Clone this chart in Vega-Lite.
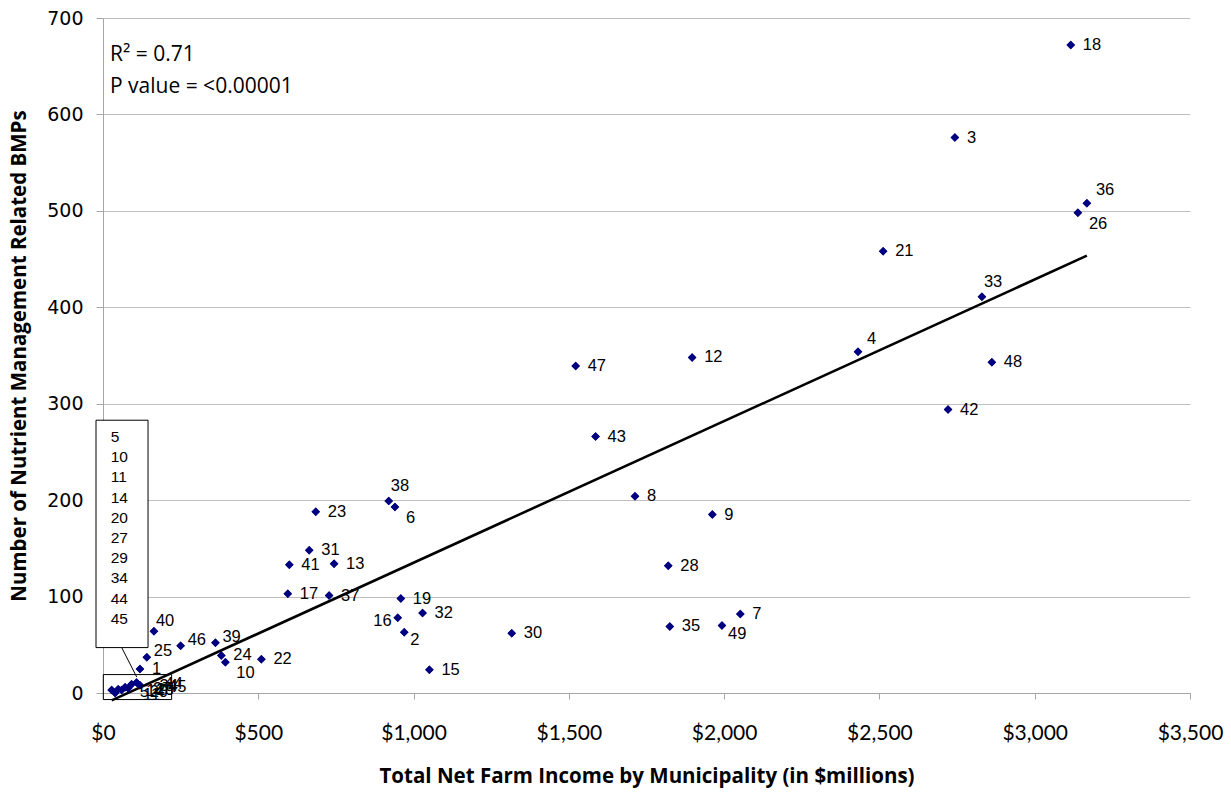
{
  "$schema": "https://vega.github.io/schema/vega-lite/v6.json",
  "width": 1087,
  "height": 675,
  "autosize": {"type": "none"},
  "padding": {"left": 103, "top": 18, "right": 41, "bottom": 101},
  "background": "white",
  "config": {"view": {"stroke": null}, "font": "Liberation Sans"},
  "datasets": {
    "towns": [
      {"id": 1, "income": 119, "bmps": 25},
      {"id": 2, "income": 970, "bmps": 63},
      {"id": 3, "income": 2743, "bmps": 576},
      {"id": 4, "income": 2431, "bmps": 354},
      {"id": 5, "income": 28, "bmps": 3},
      {"id": 6, "income": 940, "bmps": 193},
      {"id": 7, "income": 2052, "bmps": 82},
      {"id": 8, "income": 1713, "bmps": 204},
      {"id": 9, "income": 1962, "bmps": 185},
      {"id": 10, "income": 394, "bmps": 32},
      {"id": 11, "income": 39, "bmps": 0},
      {"id": 12, "income": 1897, "bmps": 348},
      {"id": 13, "income": 744, "bmps": 134},
      {"id": 14, "income": 49, "bmps": 4},
      {"id": 15, "income": 1051, "bmps": 24},
      {"id": 16, "income": 949, "bmps": 78},
      {"id": 17, "income": 595, "bmps": 103},
      {"id": 18, "income": 3116, "bmps": 672},
      {"id": 19, "income": 959, "bmps": 98},
      {"id": 20, "income": 60, "bmps": 3},
      {"id": 21, "income": 2512, "bmps": 458},
      {"id": 22, "income": 510, "bmps": 35},
      {"id": 23, "income": 685, "bmps": 188},
      {"id": 24, "income": 381, "bmps": 39},
      {"id": 25, "income": 141, "bmps": 37},
      {"id": 26, "income": 3139, "bmps": 498},
      {"id": 27, "income": 71, "bmps": 6},
      {"id": 28, "income": 1820, "bmps": 132},
      {"id": 29, "income": 81, "bmps": 5},
      {"id": 30, "income": 1316, "bmps": 62},
      {"id": 31, "income": 664, "bmps": 148},
      {"id": 32, "income": 1029, "bmps": 83},
      {"id": 33, "income": 2830, "bmps": 411},
      {"id": 34, "income": 92, "bmps": 9},
      {"id": 35, "income": 1825, "bmps": 69},
      {"id": 36, "income": 3168, "bmps": 508},
      {"id": 37, "income": 728, "bmps": 101},
      {"id": 38, "income": 920, "bmps": 199},
      {"id": 39, "income": 362, "bmps": 52},
      {"id": 40, "income": 164, "bmps": 64},
      {"id": 41, "income": 600, "bmps": 133},
      {"id": 42, "income": 2721, "bmps": 294},
      {"id": 43, "income": 1586, "bmps": 266},
      {"id": 44, "income": 108, "bmps": 11},
      {"id": 45, "income": 119, "bmps": 8},
      {"id": 46, "income": 250, "bmps": 49},
      {"id": 47, "income": 1522, "bmps": 339},
      {"id": 48, "income": 2862, "bmps": 343},
      {"id": 49, "income": 1993, "bmps": 70}
    ],
    "callout": [{"ids": ["5", "10", "11", "14", "20", "27", "29", "34", "44", "45"], "stats": ["R² = 0.71", "P value = <0.00001"]}]
  },
  "layer": [
    {
      "data": {"name": "towns"},
      "mark": {"type": "point", "shape": "diamond", "filled": true, "size": 72, "color": "#000080", "opacity": 1},
      "encoding": {
        "x": {
          "field": "income",
          "type": "quantitative",
          "scale": {"domain": [0, 3500], "nice": false, "zero": false},
          "axis": {
            "title": "Total Net Farm Income by Municipality (in $millions)",
            "values": [0, 500, 1000, 1500, 2000, 2500, 3000, 3500],
            "labelExpr": "'$' + format(datum.value, ',')",
            "grid": false,
            "domainColor": "#a6a6a6",
            "tickColor": "#a6a6a6",
            "tickSize": 6,
            "labelFont": "Lato",
            "labelFontSize": 21,
            "labelColor": "#000000",
            "labelPadding": 23,
            "labelFlush": false,
            "labelOverlap": false,
            "titleFont": "Open Sans",
            "titleFontSize": 20.5,
            "titleFontWeight": "bold",
            "titleColor": "#000000",
            "titleBaseline": "middle",
            "titleY": 83
          }
        },
        "y": {
          "field": "bmps",
          "type": "quantitative",
          "scale": {"domain": [0, 700], "nice": false, "zero": false},
          "axis": {
            "title": "Number of Nutrient Management Related BMPs",
            "values": [0, 100, 200, 300, 400, 500, 600, 700],
            "grid": true,
            "gridColor": "#bfbfbf",
            "gridWidth": 1,
            "domainColor": "#a6a6a6",
            "tickColor": "#a6a6a6",
            "tickSize": 7,
            "labelFont": "DejaVu Sans",
            "labelFontSize": 19,
            "labelColor": "#000000",
            "labelPadding": 13,
            "labelFlush": false,
            "titleFont": "Open Sans",
            "titleFontSize": 20.5,
            "titleFontWeight": "bold",
            "titleColor": "#000000",
            "titleAngle": 270,
            "titleBaseline": "middle",
            "titleAlign": "center",
            "titleX": -84,
            "titleY": 337.5
          }
        }
      }
    },
    {
      "data": {"name": "callout"},
      "mark": {"type": "rect", "fill": "white", "stroke": "black", "strokeWidth": 1},
      "encoding": {
        "x": {"datum": -22.5, "type": "quantitative"},
        "x2": {"datum": 145},
        "y": {"datum": 282.9, "type": "quantitative"},
        "y2": {"datum": 47.1}
      }
    },
    {
      "data": {"name": "callout"},
      "mark": {"type": "text", "align": "left", "baseline": "middle", "fontSize": 15.5, "lineHeight": 20.2, "color": "black"},
      "encoding": {
        "x": {"datum": 24.8, "type": "quantitative"},
        "y": {"datum": 265.5, "type": "quantitative"},
        "text": {"field": "ids"}
      }
    },
    {
      "data": {"name": "callout"},
      "mark": {"type": "rule", "color": "black", "strokeWidth": 1},
      "encoding": {
        "x": {"datum": 60.2, "type": "quantitative"},
        "x2": {"datum": 108.5},
        "y": {"datum": 47.1, "type": "quantitative"},
        "y2": {"datum": 16.6}
      }
    },
    {
      "data": {"name": "callout"},
      "mark": {"type": "rect", "fill": null, "fillOpacity": 0, "stroke": "black", "strokeWidth": 1},
      "encoding": {
        "x": {"datum": 1, "type": "quantitative"},
        "x2": {"datum": 221},
        "y": {"datum": 19.1, "type": "quantitative"},
        "y2": {"datum": -6.8}
      }
    },
    {
      "data": {"name": "towns"},
      "transform": [{"regression": "bmps", "on": "income", "method": "linear"}],
      "mark": {"type": "line", "color": "black", "strokeWidth": 2.6},
      "encoding": {
        "x": {"field": "income", "type": "quantitative"},
        "y": {"field": "bmps", "type": "quantitative"}
      }
    },
    {
      "data": {"name": "towns"},
      "mark": {"type": "point", "shape": "diamond", "filled": true, "size": 72, "color": "#000080", "opacity": 1},
      "encoding": {
        "x": {"field": "income", "type": "quantitative"},
        "y": {"field": "bmps", "type": "quantitative"}
      }
    },
    {
      "data": {"name": "towns"},
      "transform": [{"filter": "indexof([16,36,4,38,33,40,46,39,25,26,6,10,49,2,5,11,14,20,27,29,34,44,45], datum.id) < 0"}],
      "mark": {"type": "text", "align": "left", "baseline": "middle", "dx": 12, "fontSize": 16.5, "color": "black"},
      "encoding": {"x": {"field": "income", "type": "quantitative"}, "y": {"field": "bmps", "type": "quantitative"}, "text": {"field": "id"}}
    },
    {
      "data": {"name": "towns"},
      "transform": [{"filter": {"field": "id", "oneOf": [36, 4]}}],
      "mark": {"type": "text", "align": "left", "baseline": "middle", "dx": 9, "dy": -13, "fontSize": 16.5, "color": "black"},
      "encoding": {"x": {"field": "income", "type": "quantitative"}, "y": {"field": "bmps", "type": "quantitative"}, "text": {"field": "id"}}
    },
    {
      "data": {"name": "towns"},
      "transform": [{"filter": {"field": "id", "oneOf": [38, 33]}}],
      "mark": {"type": "text", "align": "left", "baseline": "middle", "dx": 2, "dy": -15, "fontSize": 16.5, "color": "black"},
      "encoding": {"x": {"field": "income", "type": "quantitative"}, "y": {"field": "bmps", "type": "quantitative"}, "text": {"field": "id"}}
    },
    {
      "data": {"name": "towns"},
      "transform": [{"filter": {"field": "id", "oneOf": [40]}}],
      "mark": {"type": "text", "align": "left", "baseline": "middle", "dx": 2, "dy": -10, "fontSize": 16.5, "color": "black"},
      "encoding": {"x": {"field": "income", "type": "quantitative"}, "y": {"field": "bmps", "type": "quantitative"}, "text": {"field": "id"}}
    },
    {
      "data": {"name": "towns"},
      "transform": [{"filter": {"field": "id", "oneOf": [46, 39, 25]}}],
      "mark": {"type": "text", "align": "left", "baseline": "middle", "dx": 7, "dy": -6, "fontSize": 16.5, "color": "black"},
      "encoding": {"x": {"field": "income", "type": "quantitative"}, "y": {"field": "bmps", "type": "quantitative"}, "text": {"field": "id"}}
    },
    {
      "data": {"name": "towns"},
      "transform": [{"filter": {"field": "id", "oneOf": [26, 6, 10]}}],
      "mark": {"type": "text", "align": "left", "baseline": "middle", "dx": 11, "dy": 11, "fontSize": 16.5, "color": "black"},
      "encoding": {"x": {"field": "income", "type": "quantitative"}, "y": {"field": "bmps", "type": "quantitative"}, "text": {"field": "id"}}
    },
    {
      "data": {"name": "towns"},
      "transform": [{"filter": {"field": "id", "oneOf": [49, 2]}}],
      "mark": {"type": "text", "align": "left", "baseline": "middle", "dx": 6, "dy": 8, "fontSize": 16.5, "color": "black"},
      "encoding": {"x": {"field": "income", "type": "quantitative"}, "y": {"field": "bmps", "type": "quantitative"}, "text": {"field": "id"}}
    },
    {
      "data": {"name": "towns"},
      "transform": [{"filter": {"field": "id", "oneOf": [16]}}],
      "mark": {"type": "text", "align": "right", "baseline": "middle", "dx": -6, "dy": 3, "fontSize": 16.5, "color": "black"},
      "encoding": {"x": {"field": "income", "type": "quantitative"}, "y": {"field": "bmps", "type": "quantitative"}, "text": {"field": "id"}}
    },
    {
      "data": {"name": "towns"},
      "transform": [{"filter": {"field": "id", "oneOf": [5, 11, 14, 20, 27, 29, 34, 44, 45]}}],
      "mark": {"type": "text", "align": "left", "baseline": "middle", "dx": 28, "dy": 2, "fontSize": 16.5, "color": "black"},
      "encoding": {"x": {"field": "income", "type": "quantitative"}, "y": {"field": "bmps", "type": "quantitative"}, "text": {"field": "id"}}
    },
    {
      "data": {"name": "callout"},
      "mark": {"type": "text", "align": "left", "baseline": "middle", "font": "Open Sans", "fontSize": 21, "lineHeight": 32, "color": "black"},
      "encoding": {
        "x": {"datum": 22.5, "type": "quantitative"},
        "y": {"datum": 661.5, "type": "quantitative"},
        "text": {"field": "stats"}
      }
    }
  ]
}
